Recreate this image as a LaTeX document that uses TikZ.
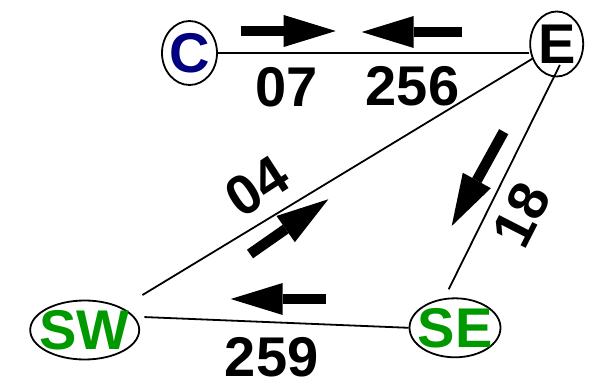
\documentclass[tikz,border=0pt]{standalone}
\usepackage{fontspec}
\setmainfont{Liberation Sans}
\usepackage{xcolor}
\usetikzlibrary{arrows.meta, shapes.geometric}
\definecolor{cnavy}{RGB}{0,0,128}
\definecolor{sgreen}{RGB}{0,153,0}

\begin{document}
\begin{tikzpicture}[x=1pt,y=1pt]
		\tikzset{vertex/.style = {shape=ellipse, draw, line width=1.8pt, inner xsep=-10pt, inner ysep=0pt, font=\fontsize{56}{60}\selectfont\bfseries}}
		\tikzset{edge/.style = {line width=1.8pt}}
		\tikzset{flow/.style = {line width=10.5pt, -{Triangle[length=52pt, width=32pt, line width=0pt]}}}
		\tikzset{weight/.style = {inner sep=0pt, font=\fontsize{56}{60}\selectfont\bfseries}}

		\useasboundingbox (0,0) rectangle (602,383);

		\node[vertex, text=cnavy, minimum width=55pt, minimum height=64pt] (C) at (189.5,330) {C};
		\node[vertex, minimum width=53pt, minimum height=65pt] (E) at (556.7,339) {E};
		\node[vertex, text=sgreen, minimum width=109pt, minimum height=59pt] (SW) at (84.7,53) {SW};
		\node[vertex, text=sgreen, minimum width=91pt, minimum height=59pt] (SE) at (455,55.2) {SE};

		\draw[edge] (C.east) to (C.east -| E.west);
		\draw[edge, shorten >=24pt] (E) to (SW);
		\draw[edge, shorten <=-13.7pt, shorten >=10pt] (E.-95) to (SE.110);
		\draw[edge, shorten >=10pt] (SE.west) to (SW.15);

		\coordinate (t_1) at (240.7,352);
		\coordinate (h_1) at (335.7,352);
		\coordinate (t_2) at (462,351);
		\coordinate (h_2) at (361.7,351);
		\coordinate (t_3) at (250,129);
		\coordinate (h_3) at (328.3,183.7);
		\coordinate (t_4) at (503.7,251.3);
		\coordinate (h_4) at (451.7,157);
		\coordinate (t_5) at (326,84);
		\coordinate (h_5) at (230.7,84);

		\draw[flow] (t_1) to (h_1);
		\draw[flow] (t_2) to (h_2);
		\draw[flow] (t_3) to (h_3);
		\draw[flow] (t_4) to (h_4);
		\draw[flow] (t_5) to (h_5);

		\node[weight] (w_1) at (286.3,296) {07};
		\node[weight] (w_2) at (412.5,297) {256};
		\node[weight, rotate=33] (w_3) at (256.7,196.3) {04};
		\node[weight, rotate=63] (w_4) at (521.7,168) {18};
		\node[weight] (w_5) at (271.7,25.5) {259};


	\end{tikzpicture}
\end{document}
